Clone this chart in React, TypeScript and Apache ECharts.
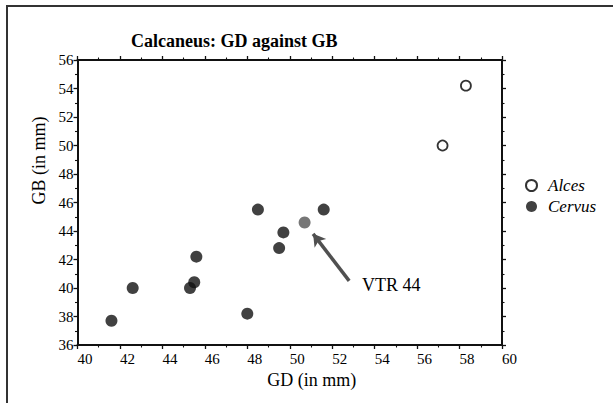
import React, { useEffect, useRef } from "react";
import * as echarts from "echarts";

const titleText = "Calcaneus: GD against GB";
const xName = "GD (in mm)";
const yName = "GB (in mm)";
const alcesName = "Alces";
const cervusName = "Cervus";
const alces: number[][] = [
  [58.3, 54.2],
  [57.2, 50.0],
];
const cervus: number[][] = [
  [41.6, 37.7],
  [42.6, 40.0],
  [45.3, 40.0],
  [45.5, 40.4],
  [45.6, 42.2],
  [48.0, 38.2],
  [48.5, 45.5],
  [49.5, 42.8],
  [49.7, 43.9],
  [51.6, 45.5],
];
const vtr44: number[][] = [[50.7, 44.6]];
const vtrLabel = "VTR 44";
const vtrArrowFrom = [52.8, 40.5];
const vtrArrowTo = [51.1, 43.8];

const FONT = "Liberation Serif";

export default function App() {
  const ref = useRef<HTMLDivElement>(null);
  useEffect(() => {
    if (!ref.current) return;
    document.body.style.margin = "0";
    document.body.style.overflow = "hidden";
    const chart = echarts.init(ref.current, null, { renderer: "svg" });
    const axisLine = { show: true, lineStyle: { color: "#111", width: 2 } };
    const tick = { show: true, length: 4, lineStyle: { color: "#111", width: 1.3 } };
    const minor = { show: true, splitNumber: 2, length: 2.5, lineStyle: { color: "#111", width: 1.1 } };
    chart.setOption({
      animation: false,
      backgroundColor: "#fff",
      title: {
        text: titleText,
        left: 126,
        top: 27,
        textStyle: { fontFamily: FONT, fontWeight: "bold", fontSize: 18, color: "#000" },
      },
      grid: { left: 77.5, right: 111, top: 60, bottom: 58 },
      legend: {
        orient: "vertical",
        left: 520,
        top: 172,
        itemWidth: 11,
        itemHeight: 11,
        itemGap: 4,
        data: [alcesName, cervusName],
        textStyle: {
          fontFamily: FONT,
          fontStyle: "italic",
          fontSize: 17,
          color: "#000",
          padding: [0, 0, 0, 6],
        },
      },
      xAxis: [
        {
          type: "value",
          min: 40,
          max: 60,
          interval: 2,
          name: xName,
          nameLocation: "middle",
          nameGap: 25,
          nameTextStyle: { fontFamily: FONT, fontSize: 18, color: "#000", padding: [0, 0, 0, 44] },
          axisLine,
          axisTick: tick,
          minorTick: minor,
          splitLine: { show: false },
          axisLabel: { fontFamily: FONT, fontSize: 15, color: "#000", align: "left", margin: 6 },
        },
        {
          type: "value",
          position: "top",
          min: 40,
          max: 60,
          interval: 2,
          axisLine,
          axisTick: tick,
          minorTick: minor,
          splitLine: { show: false },
          axisLabel: { show: false },
        },
      ],
      yAxis: [
        {
          type: "value",
          min: 36,
          max: 56,
          interval: 2,
          name: yName,
          nameLocation: "middle",
          nameGap: 25,
          nameTextStyle: { fontFamily: FONT, fontSize: 18, color: "#000", padding: [0, 0, 0, 84] },
          axisLine,
          axisTick: tick,
          minorTick: minor,
          splitLine: { show: false },
          axisLabel: { fontFamily: FONT, fontSize: 15, color: "#000", margin: 4 },
        },
        {
          type: "value",
          position: "right",
          min: 36,
          max: 56,
          interval: 2,
          axisLine,
          axisTick: tick,
          minorTick: minor,
          splitLine: { show: false },
          axisLabel: { show: false },
        },
      ],
      series: [
        {
          name: alcesName,
          type: "scatter",
          data: alces,
          symbol: "circle",
          symbolSize: 10,
          itemStyle: { color: "#fff", borderColor: "#000", borderWidth: 1.8 },
        },
        {
          name: cervusName,
          type: "scatter",
          data: cervus,
          symbol: "circle",
          symbolSize: 12,
          itemStyle: { color: "#111" },
        },
        {
          name: vtrLabel,
          type: "scatter",
          data: vtr44,
          symbol: "circle",
          symbolSize: 12,
          itemStyle: { color: "#555" },
          markLine: {
            silent: true,
            symbol: ["none", "arrow"],
            symbolSize: [11, 12],
            label: { show: false },
            lineStyle: { color: "#505050", width: 3.5, type: "solid" },
            data: [[{ coord: vtrArrowFrom }, { coord: vtrArrowTo }]],
          },
        },
      ],
      graphic: [
        {
          type: "line",
          shape: { x1: 7, y1: 403, x2: 7, y2: 6 },
          style: { stroke: "#333", lineWidth: 2 },
        },
        {
          type: "line",
          shape: { x1: 6, y1: 6, x2: 613, y2: 6 },
          style: { stroke: "#333", lineWidth: 2 },
        },
        {
          type: "text",
          left: 362,
          top: 276,
          style: { text: vtrLabel, fontFamily: FONT, fontSize: 18, fill: "#000" },
        },
      ],
    });
    return () => chart.dispose();
  }, []);
  return (
    <div
      ref={ref}
      style={{ position: "fixed", left: 0, top: 0, width: 613, height: 403, background: "#fff" }}
    />
  );
}
